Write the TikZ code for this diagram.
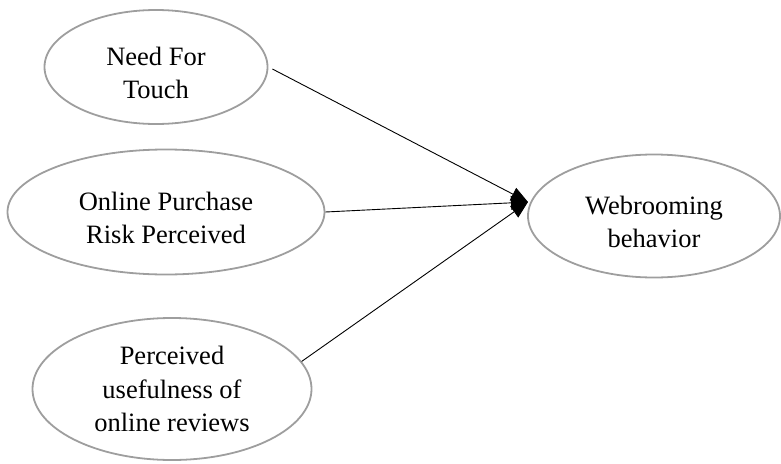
\documentclass[tikz,border=0pt]{standalone}
\usepackage{fontspec}
\setmainfont{Liberation Serif}
\usetikzlibrary{shapes.geometric,arrows.meta}

\begin{document}
\begin{tikzpicture}[
    x=1pt, y=-1pt,
    font=\fontsize{26.5}{33.5}\selectfont,
    factor/.style={ellipse, draw=black!38, line width=1.8pt, inner sep=0pt, align=center},
    lowtext/.style={text height=64pt},
    arr/.style={-{Triangle[length=17pt,width=14pt]}, line width=0.9pt},
]
    \useasboundingbox (0,0) rectangle (781,463);

    % ============= Antecedents =============
    \node[factor, lowtext, minimum width=223, minimum height=114] (touch) at (156,67) {Need For\\Touch};
    \node[factor, lowtext, minimum width=317, minimum height=125] (risk) at (166,212) {Online Purchase\\Risk Perceived};
    \node[factor, minimum width=279, minimum height=142] (reviews) at (172,389) {Perceived\\usefulness of\\online reviews};

    % ============= Outcome =============
    \node[factor, lowtext, minimum width=252, minimum height=123] (web) at (654,216) {Webrooming\\behavior};
    \coordinate (tip) at (528,202);

    \draw[arr] (touch.east) ++(4,2) coordinate (t0) (t0) -- (tip);
    \draw[arr] (risk.east) -- (tip);
    \draw[arr] (reviews.12) -- (tip);
\end{tikzpicture}
\end{document}
